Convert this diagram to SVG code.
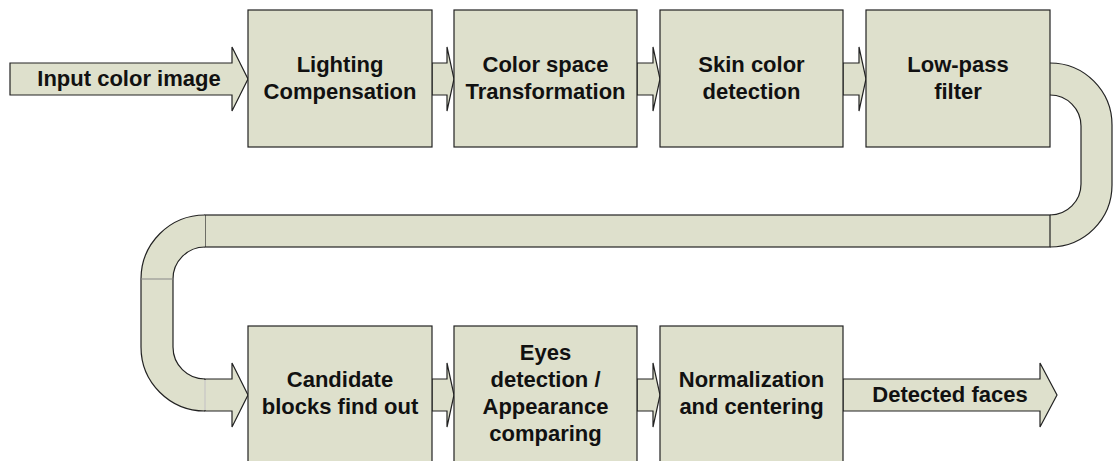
<svg xmlns="http://www.w3.org/2000/svg" width="1113" height="461" viewBox="0 0 1113 461">
<style>
.box{fill:#dee0cc;stroke:#222;stroke-width:1.2}
.arr{fill:#dee0cc;stroke:#222;stroke-width:1.2;stroke-linejoin:miter}
.fill{fill:#dee0cc;stroke:none}
.edge{fill:none;stroke:#222;stroke-width:1.2}
text{font-family:"Liberation Sans",Arial,sans-serif;font-weight:bold;font-size:22px;fill:#111;text-anchor:middle}
</style>
<rect width="1113" height="461" fill="#fff"/>
<g id="connectors">
  <polygon id="in-arrow" class="arr" points="10,63 232,63 232,47 248,79 232,111 232,95 10,95"/>
  <polygon class="arr" points="432,63 447,63 447,47 454,79 447,111 447,95 432,95"/>
  <polygon class="arr" points="637,63 653,63 653,47 660,79 653,111 653,95 637,95"/>
  <polygon class="arr" points="843,63 859,63 859,47 866,79 859,111 859,95 843,95"/>
  <!-- right U -->
  <path class="fill" d="M1050,63 A62,62 0 0 1 1112,125 V185 A62,62 0 0 1 1050,247 V215 A31,31 0 0 0 1081,184 V126 A31,31 0 0 0 1050,95 Z"/>
  <path class="edge" d="M1050,63 A62,62 0 0 1 1112,125 V185 A62,62 0 0 1 1050,247 M1050,215 A31,31 0 0 0 1081,184 V126 A31,31 0 0 0 1050,95"/>
  <!-- horizontal band -->
  <rect class="box" x="205" y="215" width="845" height="32"/>
  <!-- left U -->
  <path class="fill" d="M205,215 A64,64 0 0 0 141,279 V347 A64,64 0 0 0 205,411 V379 A32,32 0 0 1 173,347 V279 A32,32 0 0 1 205,247 Z"/>
  <path class="edge" d="M205,215 A64,64 0 0 0 141,279 V347 A64,64 0 0 0 205,411 M205,379 A32,32 0 0 1 173,347 V279 A32,32 0 0 1 205,247"/>
  <line x1="141" y1="279" x2="173" y2="279" stroke="#888" stroke-width="1"/>
  <polygon class="arr" points="205,379 232,379 232,363 248,395 232,427 232,411 205,411"/>
  <line x1="205" y1="380" x2="205" y2="410" stroke="#f2f2ea" stroke-width="1.5"/>
  <polygon class="arr" points="432,379 447,379 447,363 454,395 447,427 447,411 432,411"/>
  <polygon class="arr" points="637,379 653,379 653,363 660,395 653,427 653,411 637,411"/>
  <polygon id="out-arrow" class="arr" points="843,379 1040,379 1040,363 1057,395 1040,427 1040,411 843,411"/>
</g>
<g id="label-input"><text x="129" y="86">Input color image</text></g>
<g id="node-lighting">
  <rect class="box" x="248" y="10" width="184" height="137"/>
  <text x="340" y="72">Lighting</text>
  <text x="340" y="99">Compensation</text>
</g>
<g id="node-colorspace">
  <rect class="box" x="454" y="10" width="183" height="137"/>
  <text x="545.5" y="72">Color space</text>
  <text x="545.5" y="99">Transformation</text>
</g>
<g id="node-skin">
  <rect class="box" x="660" y="10" width="183" height="137"/>
  <text x="751.5" y="72">Skin color</text>
  <text x="751.5" y="99">detection</text>
</g>
<g id="node-lowpass">
  <rect class="box" x="866" y="10" width="184" height="137"/>
  <text x="958" y="72">Low-pass</text>
  <text x="958" y="99">filter</text>
</g>
<g id="node-candidate">
  <rect class="box" x="248" y="326" width="184" height="137"/>
  <text x="340" y="387">Candidate</text>
  <text x="340" y="414">blocks find out</text>
</g>
<g id="node-eyes">
  <rect class="box" x="454" y="326" width="183" height="137"/>
  <text x="545.5" y="360">Eyes</text>
  <text x="545.5" y="387">detection /</text>
  <text x="545.5" y="414">Appearance</text>
  <text x="545.5" y="441">comparing</text>
</g>
<g id="node-normalization">
  <rect class="box" x="660" y="326" width="183" height="137"/>
  <text x="751.5" y="387">Normalization</text>
  <text x="751.5" y="414">and centering</text>
</g>
<g id="label-output"><text x="950" y="402">Detected faces</text></g>
</svg>
